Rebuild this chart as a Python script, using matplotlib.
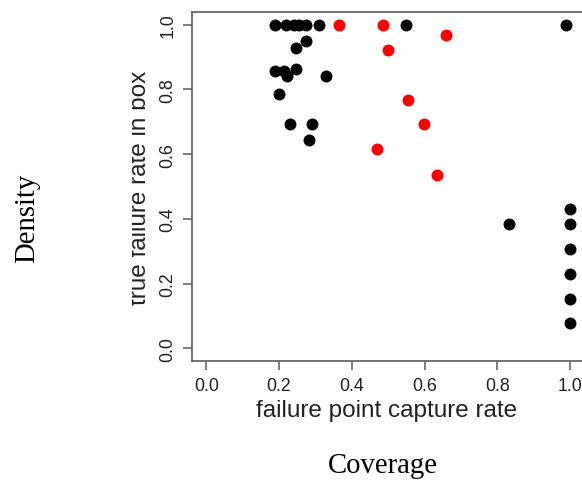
import matplotlib
matplotlib.use("Agg")
import matplotlib.pyplot as plt
from matplotlib.transforms import Bbox, TransformedBbox

# Data
black_x = [0.188, 0.220, 0.240, 0.256, 0.275, 0.310, 0.550, 0.988,
           0.275, 0.247, 0.189, 0.215, 0.221, 0.246, 0.329, 0.200,
           0.230, 0.290, 0.282, 0.831, 1.0, 1.0, 1.0, 1.0, 1.0, 1.0]
black_y = [1.0, 1.0, 1.0, 1.0, 1.0, 1.0, 1.0, 1.0,
           0.951, 0.927, 0.856, 0.856, 0.842, 0.863, 0.842, 0.785,
           0.693, 0.693, 0.643, 0.385, 0.429, 0.385, 0.307, 0.230, 0.153, 0.079]
red_x = [0.366, 0.486, 0.660, 0.499, 0.554, 0.598, 0.469, 0.635]
red_y = [1.0, 1.0, 0.969, 0.922, 0.767, 0.693, 0.615, 0.537]

ticks = [0.0, 0.2, 0.4, 0.6, 0.8, 1.0]
tick_labels = ["0.0", "0.2", "0.4", "0.6", "0.8", "1.0"]

W, H = 582, 481
fig = plt.figure(figsize=(W / 100, H / 100), dpi=100)
fig.patch.set_facecolor("white")

ax = fig.add_axes([191.7 / W, 1 - 362.3 / H, (584.6 - 191.7) / W, (362.3 - 12.7) / H])
ax.plot(black_x, black_y, "o", color="black", ms=8.6, mew=0)
ax.plot(red_x, red_y, "o", color="#ff0000", ms=8.6, mew=0)
ax.set_xlim(-0.04, 1.04)
ax.set_ylim(-0.04, 1.04)

spine_col = "#666666"
for s in ax.spines.values():
    s.set_color(spine_col)
    s.set_linewidth(1.3)

ax.set_xticks(ticks)
ax.set_xticklabels(tick_labels, fontsize=12.8, family="Liberation Sans", color="#222222")
ax.set_yticks(ticks)
ax.set_yticklabels(tick_labels, fontsize=12.8, family="Liberation Sans", color="#222222",
                   rotation=90, va="center")
ax.tick_params(axis="both", direction="out", length=6.5, width=1.2, color=spine_col)
ax.tick_params(axis="x", pad=4.5)
ax.tick_params(axis="y", pad=4.5)

# x label of the inner R plot
fig.text(387 / W, 1 - 417 / H, "failure point capture rate", fontsize=17.5,
         family="Liberation Sans", color="#222222", ha="center", va="baseline")

# y label, clipped at the crop line of the reference
yl = fig.text(146 / W, 1 - 187.5 / H, "true failure rate in box", fontsize=17.5,
              family="Liberation Sans", color="#222222", rotation=90,
              rotation_mode="anchor", ha="center", va="baseline")
yl.set_clip_box(TransformedBbox(Bbox([[132 / W, 0], [1, 1]]), fig.transFigure))
yl.set_clip_on(True)

# outer serif labels
fig.text(27.5 / W, 1 - 218 / H, "Density", fontsize=20.7, family="Liberation Serif",
         rotation=90, ha="center", va="center")
fig.text(383 / W, 1 - 466 / H, "Coverage", fontsize=20.7, family="Liberation Serif",
         ha="center", va="center")

fig.savefig("out.png", dpi=100)
